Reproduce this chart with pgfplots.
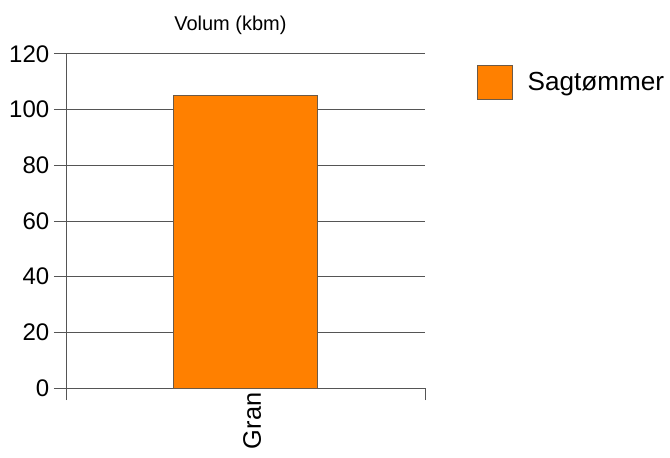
\documentclass[border=0pt]{standalone}
\usepackage{pgfplots}
\pgfplotsset{compat=1.18}
\usepackage{fontspec}
\setmainfont{Liberation Sans}
\definecolor{barorange}{HTML}{FF8000}
\definecolor{baredge}{HTML}{6B5A48}
\definecolor{gridgray}{HTML}{555555}
\begin{document}
\begin{tikzpicture}
\path[use as bounding box] (-49.5pt,-51.75pt) rectangle (453pt,291pt);
\begin{axis}[
  at={(0pt,0pt)}, anchor=south west,
  scale only axis,
  width=269.25pt, height=250.5pt,
  xmin=-1.25, xmax=1.25,
  ymin=0, ymax=120,
  ytick={0,20,...,120},
  xtick={-1.25,1.25},
  xticklabels={},
  extra x ticks={0},
  extra x tick labels={Gran},
  extra x tick style={major tick length=0pt, tick style={draw=none},
    tick label style={rotate=90, anchor=east, font=\fontsize{19}{21}\selectfont, yshift=-5pt}},
  y tick label style={font=\fontsize{18}{20}\selectfont},
  /pgf/number format/assume math mode=true,
  tick align=outside,
  major tick length=9pt,
  tick style={gridgray, line width=0.75pt},
  axis lines*=left,
  axis line style={gridgray, line width=0.75pt},
  ymajorgrids,
  grid style={gridgray, line width=0.75pt},
  title={Volum (kbm)},
  title style={font=\fontsize{15}{17}\selectfont, at={(rel axis cs:0.458,1)}, anchor=center, yshift=15.5pt},
  legend style={at={(rel axis cs:1.145,0.967)}, anchor=north west, draw=none, fill=none,
    font=\fontsize{19.6}{21}\selectfont, inner sep=0pt},
  legend image code/.code={\draw[#1] (0pt,-12.75pt) rectangle (26pt,12.75pt);},
  legend cell align=left,
]
\addplot[ybar, bar width=1.0, fill=barorange, draw=baredge, line width=0.75pt] coordinates {(0,105)};
\addlegendentry{\hspace{9pt}Sagtømmer}
\end{axis}
\end{tikzpicture}
\end{document}
